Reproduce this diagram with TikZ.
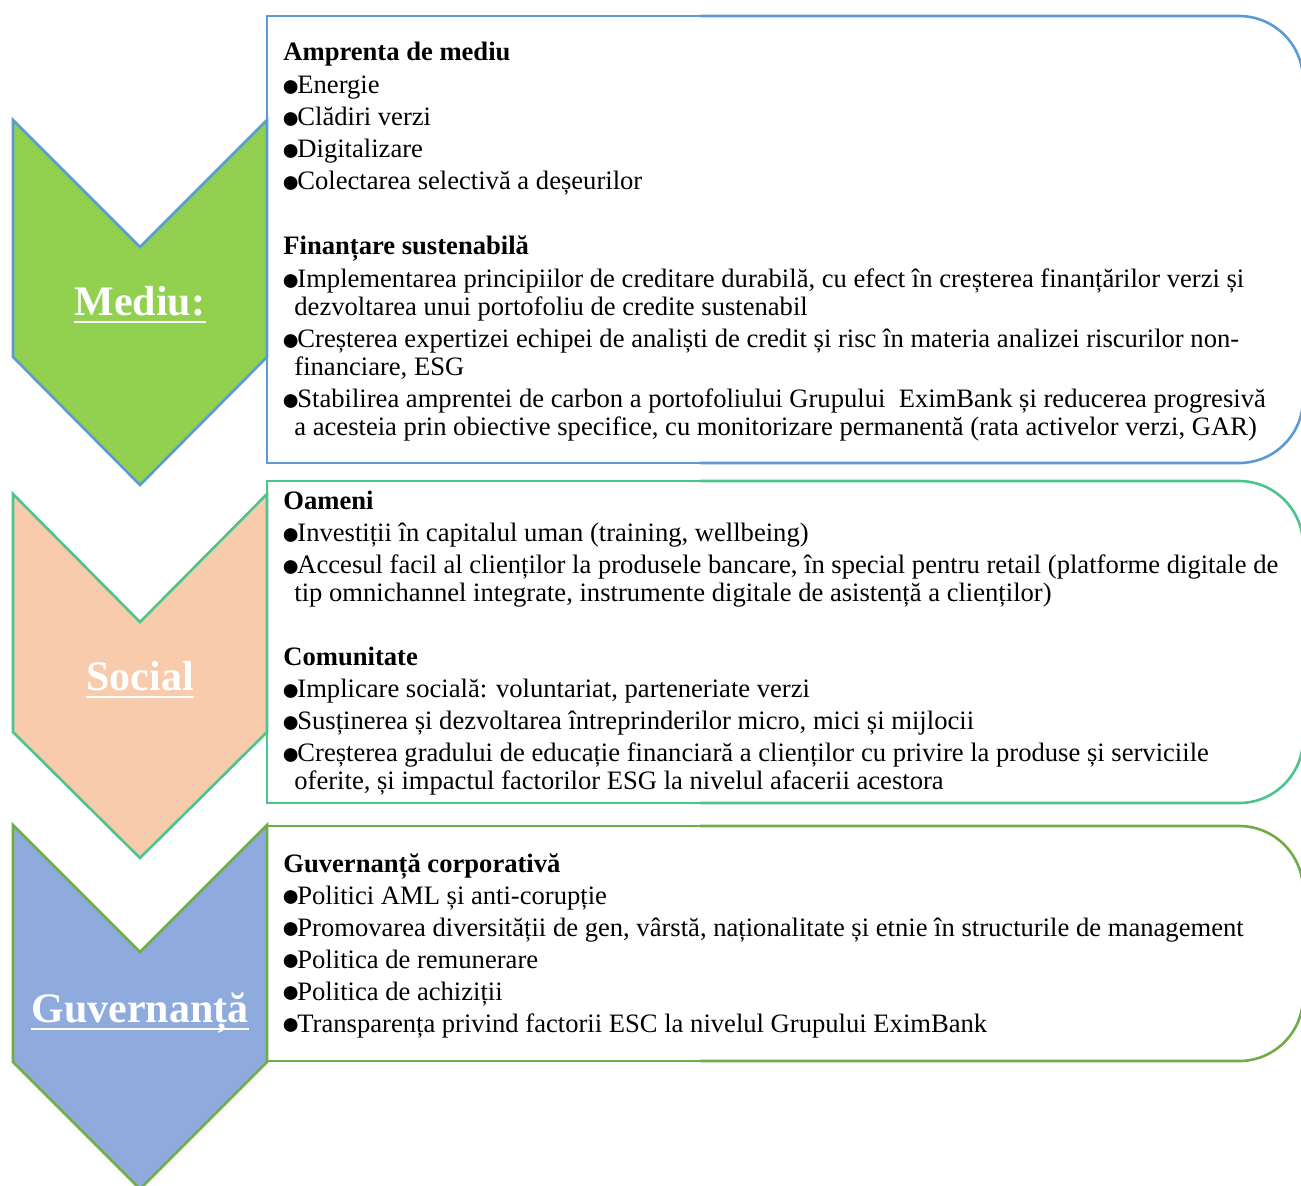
\documentclass[tikz,border=0pt]{standalone}
\usepackage{fontspec}
\setmainfont{Liberation Serif}
\usepackage{tikz,xcolor,graphicx}
\usetikzlibrary{positioning}
\definecolor{mediuFill}{HTML}{92D050}
\definecolor{mediuLine}{HTML}{5B9BD5}
\definecolor{socialFill}{HTML}{F7CBAC}
\definecolor{socialLine}{HTML}{4CC48E}
\definecolor{guvFill}{HTML}{8FAADC}
\definecolor{guvLine}{HTML}{70AD47}
\newcommand{\blt}{\makebox[7pt][l]{\hspace{-1.2pt}\raisebox{-0.1em}{\scalebox{1.2}{●}}}}
\newcommand{\cont}{\hspace*{5.5pt}}

\begin{document}
\begin{tikzpicture}[x=0.5pt,y=-0.5pt,
		chevron/.style={line width=1.3pt,line join=miter},
		panel/.style={line width=1.3pt},
		ptext/.style={anchor=north west,inner sep=0pt,align=left,font=\fontsize{13.3}{14}\selectfont},
		plabel/.style={anchor=base,inner sep=0pt,text=white,font=\fontsize{21}{24}\selectfont\bfseries},
		uline/.style={white,line width=1pt}]
		\useasboundingbox (0,0) rectangle (1301,1185);

		\draw[panel,draw=mediuLine,rounded corners=32pt] (700,16) -- (1303,16) -- (1303,463) -- (700,463);
		\draw[panel,draw=mediuLine] (700,463) -- (267,463) -- (267,16) -- (700,16);
		\draw[panel,draw=socialLine,rounded corners=32pt] (700,481) -- (1303,481) -- (1303,803) -- (700,803);
		\draw[panel,draw=socialLine] (700,803) -- (267,803) -- (267,481) -- (700,481);
		\draw[panel,draw=guvLine,rounded corners=32pt] (700,826) -- (1303,826) -- (1303,1061) -- (700,1061);
		\draw[panel,draw=guvLine] (700,1061) -- (267,1061) -- (267,826) -- (700,826);

		\draw[chevron,fill=mediuFill,draw=mediuLine] (13,120) -- (140,247) -- (267,120) -- (267,357) -- (140,485) -- (13,357) -- cycle;
		\draw[chevron,fill=socialFill,draw=socialLine] (13,494) -- (140,622) -- (267,494) -- (267,732) -- (140,858) -- (13,732) -- cycle;
		\draw[chevron,fill=guvFill,draw=guvLine] (13,825) -- (140,952) -- (267,825) -- (267,1062) -- (140,1189) -- (13,1062) -- cycle;

		\node[plabel] (mediu) at (140,315) {Mediu:};
		\node[plabel] (social) at (140,690) {Social};
		\node[plabel] (guvernanta) at (140,1022) {Guvernanță};
		\draw[uline] ([yshift=-3.5pt]mediu.base west) -- ([yshift=-3.5pt]mediu.base east);
		\draw[uline] ([yshift=-3.5pt]social.base west) -- ([yshift=-3.5pt]social.base east);
		\draw[uline] ([yshift=-3.5pt]guvernanta.base west) -- ([yshift=-3.5pt]guvernanta.base east);

		\node[ptext] (mediuTxt) at (283,42) {\textbf{Amprenta de mediu}\\[2.5pt]
			\blt Energie\\[2pt]
			\blt Clădiri verzi\\[2pt]
			\blt Digitalizare\\[2pt]
			\blt Colectarea selectivă a deșeurilor\\[18.5pt]
			\textbf{Finanțare sustenabilă}\\[2.5pt]
			\blt Implementarea principiilor de creditare durabilă, cu efect în creșterea finanțărilor verzi și\\
			\cont dezvoltarea unui portofoliu de credite sustenabil\\[2pt]
			\blt Creșterea expertizei echipei de analiști de credit și risc în materia analizei riscurilor non-\\
			\cont financiare, ESG\\[2pt]
			\blt Stabilirea amprentei de carbon a portofoliului Grupului \ EximBank și reducerea progresivă\\
			\cont a acesteia prin obiective specifice, cu monitorizare permanentă (rata activelor verzi, GAR)};

		\node[ptext] (socialTxt) at (283,491) {\textbf{Oameni}\\[2pt]
			\blt Investiții în capitalul uman (training, wellbeing)\\[2pt]
			\blt Accesul facil al clienților la produsele bancare, în special pentru retail (platforme digitale de\\
			\cont tip omnichannel integrate, instrumente digitale de asistență a clienților)\\[18pt]
			\textbf{Comunitate}\\[2pt]
			\blt Implicare socială: voluntariat, parteneriate verzi\\[2pt]
			\blt Susținerea și dezvoltarea întreprinderilor micro, mici și mijlocii\\[2pt]
			\blt Creșterea gradului de educație financiară a clienților cu privire la produse și serviciile\\
			\cont oferite, și impactul factorilor ESG la nivelul afacerii acestora};

		\node[ptext] (guvTxt) at (283,853) {\textbf{Guvernanță corporativă}\\[2pt]
			\blt Politici AML și anti-corupție\\[2pt]
			\blt Promovarea diversității de gen, vârstă, naționalitate și etnie în structurile de management\\[2pt]
			\blt Politica de remunerare\\[2pt]
			\blt Politica de achiziții\\[2pt]
			\blt Transparența privind factorii ESC la nivelul Grupului EximBank};
	\end{tikzpicture}
\end{document}
